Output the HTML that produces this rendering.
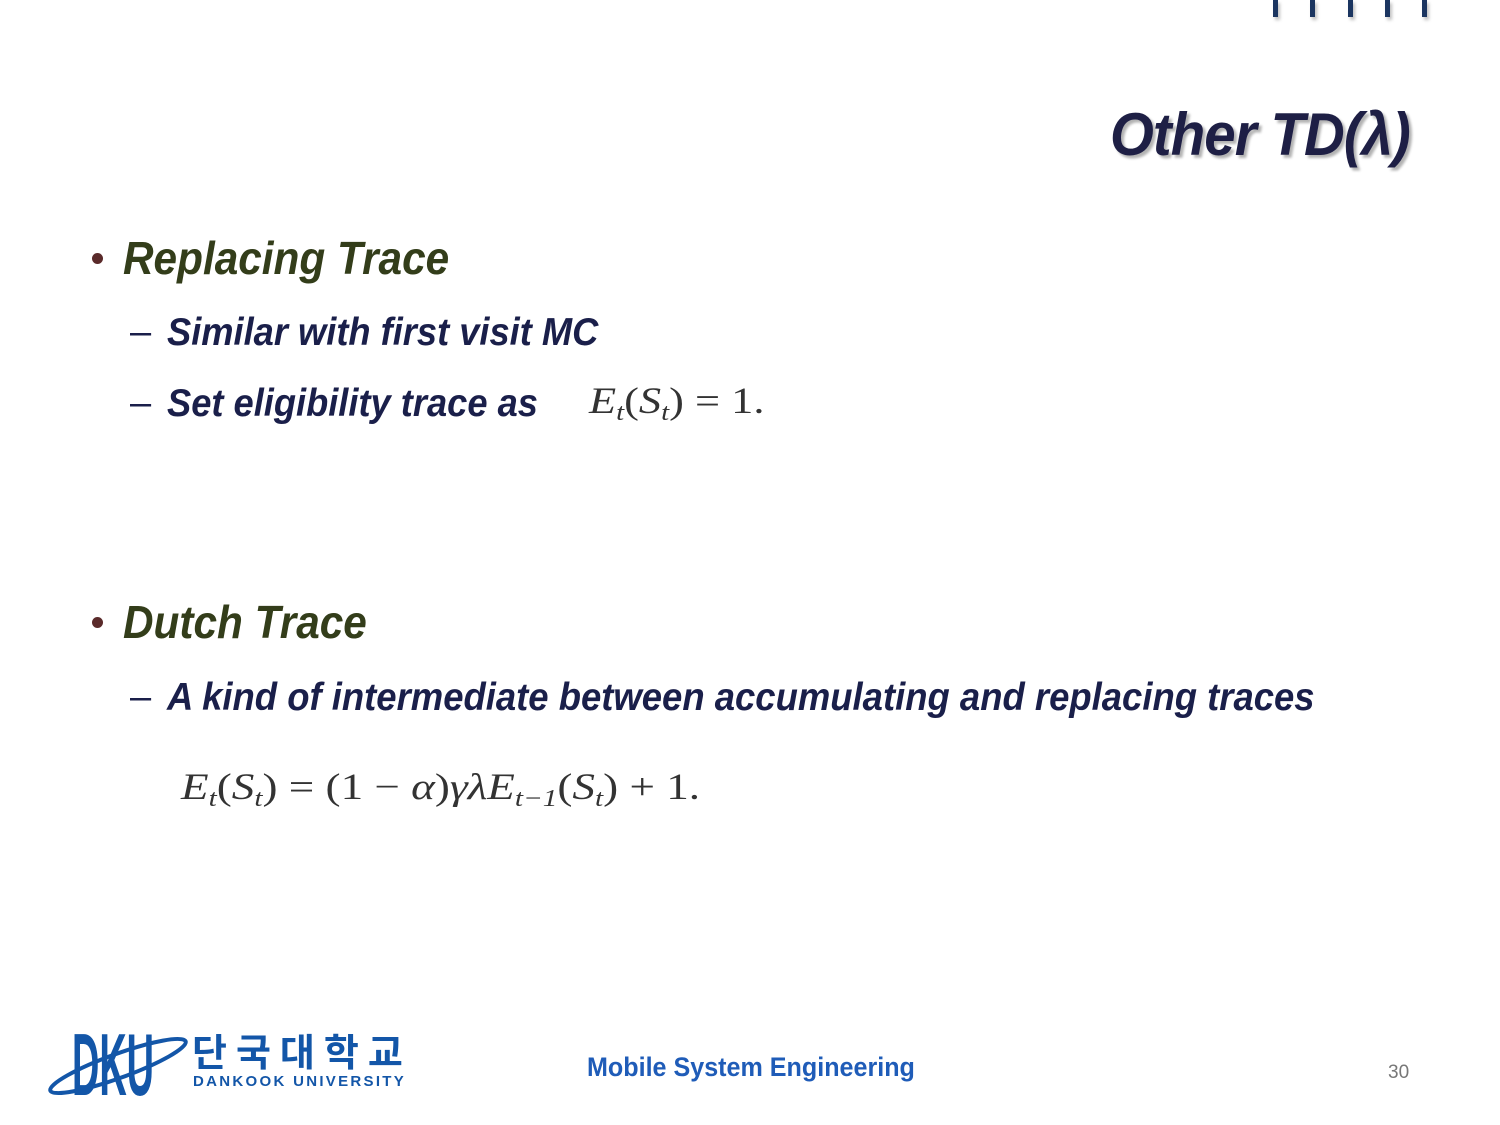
<!DOCTYPE html>
<html><head><meta charset="utf-8">
<style>
html,body{margin:0;padding:0;background:#fff;}
#slide{position:relative;width:1500px;height:1125px;overflow:hidden;background:#fff;font-family:"Liberation Sans",sans-serif;}
.t{position:absolute;white-space:nowrap;transform-origin:0 0;}
.h{font-weight:bold;font-style:italic;}
.math{font-family:"Liberation Serif",serif;color:#333;font-size:37px;}
.math i{font-style:italic;}
.math sub{font-size:24px;vertical-align:-7px;font-style:italic;}
.tick{position:absolute;top:0;width:5px;height:17px;background:#1b3560;box-shadow:2px 3px 3px rgba(0,0,0,0.25);}
.dot{position:absolute;width:11px;height:11px;border-radius:50%;background:#5a2a2a;}
</style></head>
<body>
<div id="slide">
  <div class="tick" style="left:1273px"></div>
  <div class="tick" style="left:1310px"></div>
  <div class="tick" style="left:1348px"></div>
  <div class="tick" style="left:1385px"></div>
  <div class="tick" style="left:1422px"></div>

  <div class="t h" style="left:1110px;top:100px;font-size:60px;color:#1e1f45;transform:scaleX(0.94);text-shadow:3px 3px 3px rgba(0,0,0,0.3);letter-spacing:-1px;">Other TD(λ)</div>

  <div class="dot" style="left:92px;top:253px;"></div>
  <div class="t h" style="left:123px;top:231px;font-size:46px;color:#333d1a;transform:scaleX(0.92);">Replacing Trace</div>

  <div class="t" style="left:130px;top:311px;font-size:38px;color:#1a1f4a;">–</div>
  <div class="t h" style="left:167px;top:311px;font-size:39px;color:#1a1f4a;transform:scaleX(0.93);">Similar with first visit MC</div>

  <div class="t" style="left:130px;top:382px;font-size:38px;color:#1a1f4a;">–</div>
  <div class="t h" style="left:167px;top:382px;font-size:39px;color:#1a1f4a;transform:scaleX(0.93);">Set eligibility trace as</div>
  <div class="t math" style="left:589px;top:380px;transform:scaleX(1.2);"><i>E</i><sub>t</sub>(<i>S</i><sub>t</sub>) = 1.</div>

  <div class="dot" style="left:92px;top:617px;"></div>
  <div class="t h" style="left:123px;top:595px;font-size:46px;color:#333d1a;transform:scaleX(0.92);">Dutch Trace</div>

  <div class="t" style="left:130px;top:676px;font-size:38px;color:#1a1f4a;">–</div>
  <div class="t h" style="left:167px;top:676px;font-size:39px;color:#1a1f4a;transform:scaleX(0.935);">A kind of intermediate between accumulating and replacing traces</div>

  <div class="t math" style="left:181px;top:766px;transform:scaleX(1.22);"><i>E</i><sub>t</sub>(<i>S</i><sub>t</sub>) = (1 − <i>α</i>)<i>γλE</i><sub>t−1</sub>(<i>S</i><sub>t</sub>) + 1.</div>

  <svg class="t" style="left:44px;top:1026px;" width="145" height="74" viewBox="0 0 145 74">
    <text x="28" y="69" font-family="Liberation Sans" font-weight="bold" font-size="88" fill="#1356a8" textLength="82" lengthAdjust="spacingAndGlyphs">DKU</text>
    <ellipse cx="74" cy="40" rx="72" ry="12" fill="none" stroke="#1356a8" stroke-width="4" transform="rotate(-20 74 40)"/>
  </svg>
  <div class="t" style="left:192px;top:1035px;line-height:1;font-family:'Liberation Sans','Noto Sans CJK KR',sans-serif;font-weight:bold;font-size:38px;color:#1356a8;letter-spacing:9px;">단국대학교</div>
  <div class="t" style="left:193px;top:1073px;font-weight:bold;font-size:15px;color:#1356a8;letter-spacing:2.3px;">DANKOOK UNIVERSITY</div>

  <div class="t" style="left:587px;top:1052px;font-weight:bold;font-size:27px;color:#1f5cb8;transform:scaleX(0.93);">Mobile System Engineering</div>
  <div class="t" style="left:1388px;top:1062px;font-size:19px;color:#777;">30</div>
</div>
</body></html>
